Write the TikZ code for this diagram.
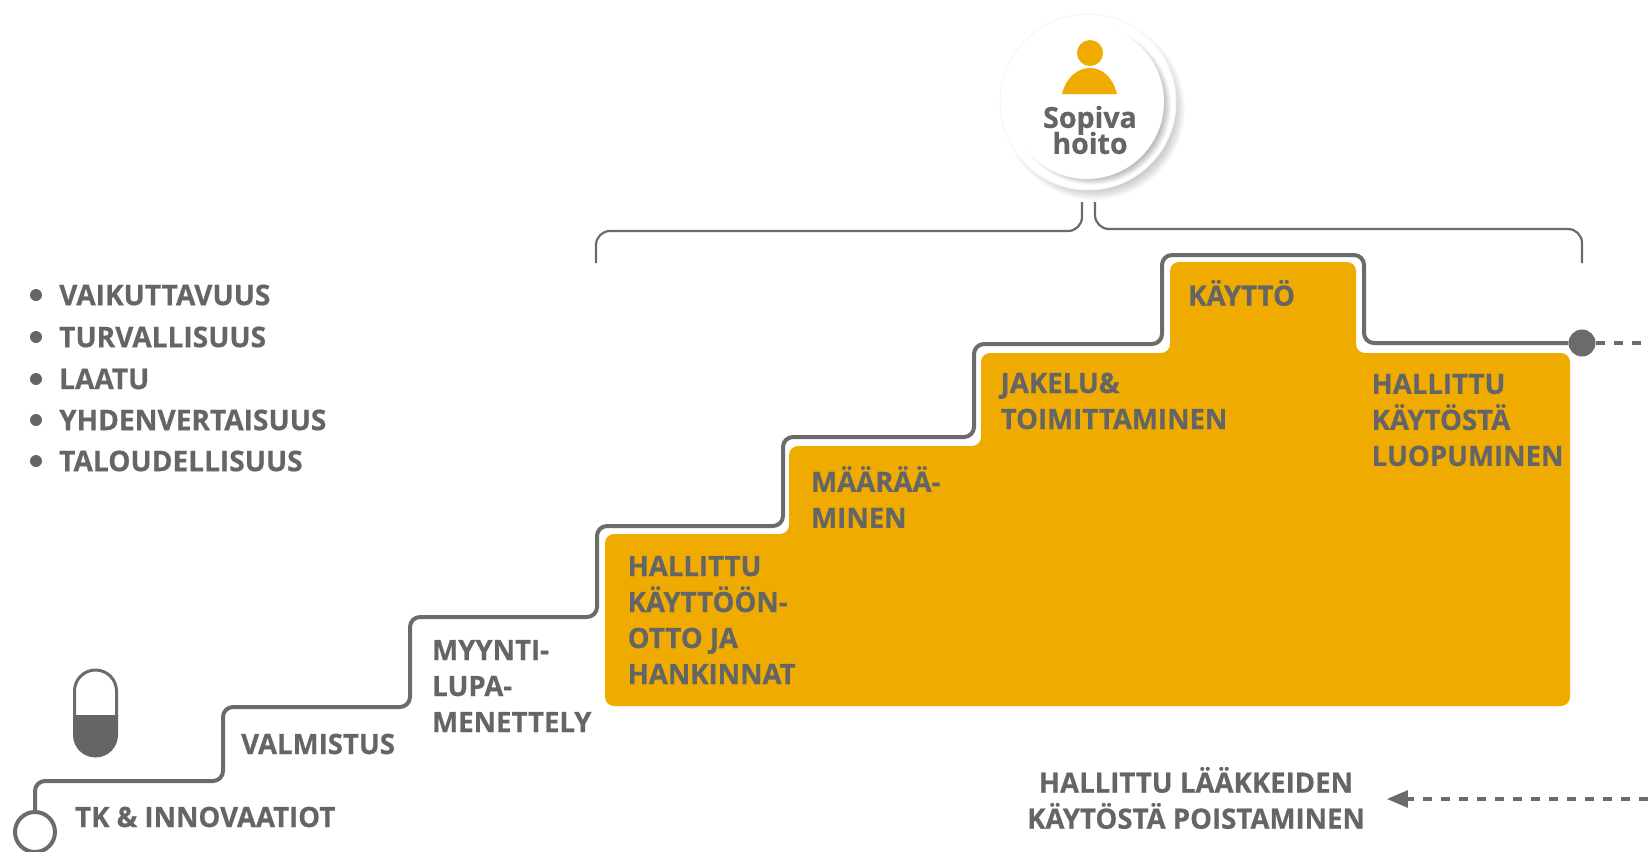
\documentclass[tikz,border=0pt]{standalone}
\usepackage{fontspec}
\setmainfont{Open Sans}[FakeStretch=0.985, BoldFeatures={FakeBold=0.5}]
\usetikzlibrary{arrows}
\definecolor{stairgray}{HTML}{6B6B69}
\definecolor{textgray}{HTML}{646567}
\definecolor{stepgold}{HTML}{F0AB00}
\tikzset{
  lbl/.style={anchor=west, align=left, inner sep=0pt, text=textgray, font=\fontsize{28}{36}\selectfont\bfseries},
  listlbl/.style={lbl, font=\fontsize{28.5}{36}\selectfont\bfseries},
  stairline/.style={draw=stairgray, line width=4pt, rounded corners=10pt},
  bracketline/.style={draw=stairgray, line width=2.2pt, rounded corners=14pt},
  dashline/.style={draw=stairgray, line width=4pt, dash pattern=on 9pt off 9pt},
  bulletdot/.style={circle, fill=textgray, inner sep=0pt, minimum size=12pt}
}
\begin{document}
\begin{tikzpicture}[x=1pt, y=-1pt]
  \useasboundingbox (0,0) rectangle (1648,851);

  % gold steps
  \fill[stepgold, rounded corners=9pt] (605,706) -- (605,534) -- (789,534) -- (789,446) -- (981,446) -- (981,353)
    -- (1170,353) -- (1170,262) -- (1356,262) -- (1356,353) -- (1570,353) -- (1570,706) -- cycle;

  % circle at the top
  \foreach \r in {0,1,...,13} {
    \fill[black, opacity=.02] (1094,109) circle (91-\r);
  }
  \node[circle, fill=white, draw=black!4, line width=1pt, minimum size=176pt, inner sep=0pt] (outer) at (1088,102) {};
  \foreach \r in {0,1,...,9} {
    \fill[black, opacity=.035] (1092,106) circle (79-\r);
  }
  \node[circle, fill=white, minimum size=154pt, inner sep=0pt] (inner) at (1087,102) {};
  \fill[stepgold] (1090,53) circle (13);
  \fill[stepgold] (1062,94) .. controls (1066,78) and (1077,68) .. (1090,68) .. controls (1103,68) and (1113,78) .. (1117,94) -- cycle;
  \node[lbl, anchor=center, align=center, font=\fontsize{29}{26}\selectfont\bfseries] (care) at (1090,130) {Sopiva\\[-4pt]hoito};

  % bracket
  \coordinate (bracketa) at (596,263);
  \coordinate (bracketb) at (1082,202);
  \coordinate (bracketc) at (1095,202);
  \coordinate (bracketd) at (1582,263);
  \draw[bracketline] (bracketa) -- (596,231) -- (1082,231) -- (bracketb);
  \draw[bracketline] (bracketc) -- (1095,229) -- (1582,229) -- (bracketd);

  % the stairs
  \node[circle, draw=stairgray, line width=4pt, fill=white, minimum size=40pt, inner sep=0pt] (start) at (35,832) {};
  \node[circle, fill=stairgray, minimum size=27pt, inner sep=0pt] (stop) at (1582,343) {};
  \coordinate (stopend) at (1648,343);
  \draw[stairline] (start) -- (35,781) -- (223,781) -- (223,707) -- (410,707) -- (410,617) -- (597,617) -- (597,526)
    -- (783,526) -- (783,437) -- (974,437) -- (974,344) -- (1162,344) -- (1162,255) -- (1364,255) -- (1364,343) -- (stop);
  \draw[dashline] (stop) -- (stopend);

  % pill
  \fill[textgray] (73,715) -- (118,715) -- (118,735) arc (0:180:22.5) -- cycle;
  \draw[stairgray, line width=3pt] (74.5,716) -- (74.5,691) arc (180:360:21) -- (116.5,716);

  % labels on the steps
  \node[lbl] (tk) at (75,817) {TK \& INNOVAATIOT};
  \node[lbl] (valm) at (241,744) {VALMISTUS};
  \node[lbl] (myynti) at (432,686) {MYYNTI-\\LUPA-\\MENETTELY};
  \node[lbl] (kaytto) at (627.5,620) {HALLITTU\\KÄYTTÖÖN-\\OTTO JA\\HANKINNAT};
  \node[lbl] (maar) at (811,497) {MÄÄRÄÄ-\\MINEN};
  \node[lbl] (jakelu) at (1000.5,401) {JAKELU\&\\TOIMITTAMINEN};
  \node[lbl] (top) at (1188,293) {KÄYTTÖ};
  \node[lbl] (luop) at (1371.5,420) {HALLITTU\\KÄYTÖSTÄ\\LUOPUMINEN};

  % list on the left
  \foreach \name/\ypos/\word in {a/295/VAIKUTTAVUUS, b/337/TURVALLISUUS, c/379/LAATU, d/420/YHDENVERTAISUUS, e/461/TALOUDELLISUUS} {
    \node[bulletdot] (dot\name) at (36,\ypos) {};
    \node[listlbl] (item\name) at (59,\ypos) {\word};
  }

  % way back
  \node[lbl, anchor=center, align=center] (back) at (1196,798) {HALLITTU LÄÄKKEIDEN\\KÄYTÖSTÄ POISTAMINEN};
  \coordinate (backstart) at (1648,799);
  \coordinate (backtip) at (1387,799);
  \draw[dashline, -triangle 45] (backstart) -- (backtip);
\end{tikzpicture}
\end{document}
